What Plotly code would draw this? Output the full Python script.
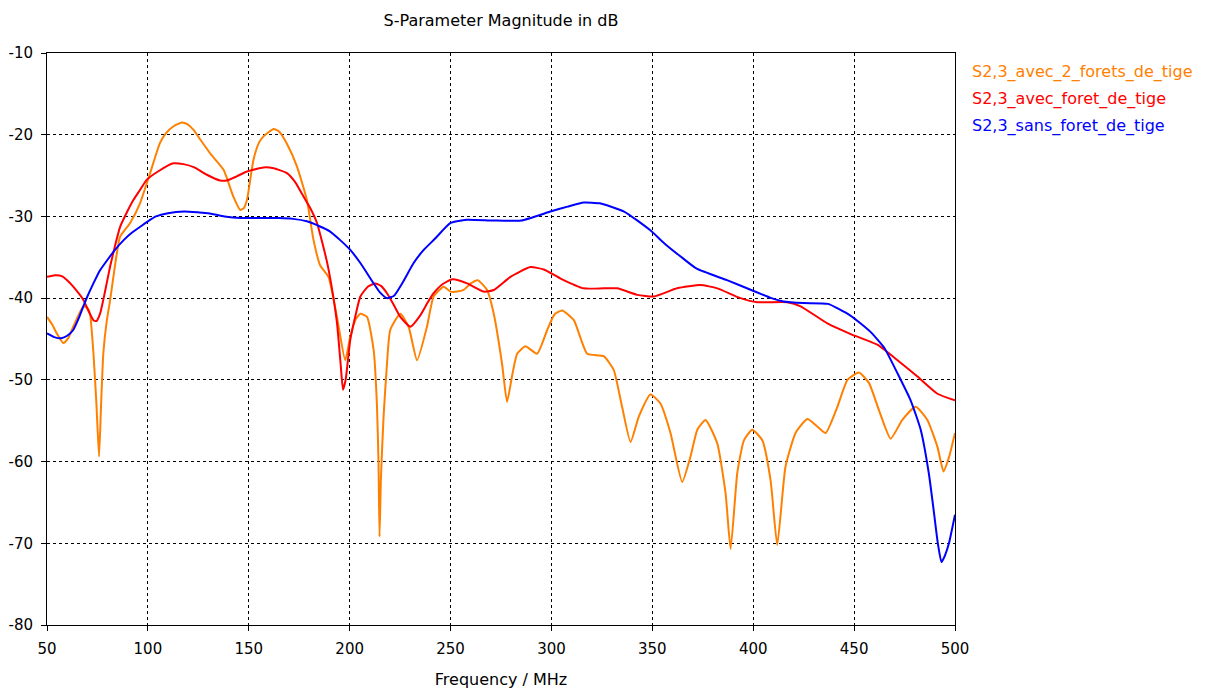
import plotly.graph_objects as go

# ---- data ----
freq_blue = [50, 54, 57, 60, 63, 66, 68, 70, 73, 76, 80, 84, 88, 92, 96, 100, 104, 110, 118, 125, 130, 138, 146, 155,
             165, 172, 178.8, 185, 190, 195.3, 200.3, 205.3, 211.9, 215, 218.5, 222, 226, 231.7, 236.7, 242, 250, 258,
             271, 285, 299.5, 308, 316, 324, 336, 349, 356, 364, 372, 387, 399, 409, 415, 425, 437, 448, 458, 465,
             471.5, 478, 483, 487, 489.6, 491.5, 493.3, 495, 497, 500]
db_blue = [-44.3, -44.8, -44.9, -44.6, -43.9, -42.3, -41.0, -39.8, -38.2, -36.7, -35.3, -34.0, -32.9, -32.0, -31.3,
           -30.6, -30.0, -29.6, -29.4, -29.5, -29.6, -30.0, -30.2, -30.2, -30.2, -30.3, -30.6, -31.2, -31.8, -32.9,
           -34.1, -35.7, -38.2, -39.3, -40.0, -39.7, -38.2, -35.7, -34.1, -32.8, -30.8, -30.4, -30.5, -30.5, -29.4,
           -28.8, -28.3, -28.4, -29.4, -31.7, -33.3, -34.9, -36.4, -37.8, -39.0, -40.0, -40.4, -40.6, -40.7, -42.1,
           -44.1, -46.1, -49.2, -52.5, -56.1, -61.4, -66.3, -70.0, -72.3, -71.5, -70.0, -66.5]

freq_red = [50, 54, 57.3, 60, 63, 68, 71, 73, 74.5, 76.3, 78.5, 81.3, 84, 86.2, 89, 92.8, 96, 99.5, 105, 112.6, 117.6,
            123, 129.2, 135.8, 139.1, 144, 149.1, 157.3, 162.3, 168.9, 173, 177.2, 180.5, 183.8, 188.7, 191, 193.7,
            195.5, 196.7, 198, 200.3, 203, 205.3, 209, 212.7, 215.5, 218.5, 222, 225.1, 230.1, 235, 238.5, 241.6, 246,
            251, 258.2, 266.4, 271.4, 279.7, 289.6, 296.2, 304.5, 316, 325.9, 332.6, 342.5, 350.7, 362.3, 373.9,
            382.2, 393.7, 402, 416.9, 423.5, 436.8, 448.3, 461.5, 471.5, 481.4, 491.3, 500]
db_red = [-37.4, -37.2, -37.3, -37.8, -38.6, -40.2, -41.8, -42.7, -42.8, -41.9, -39.5, -36.1, -33.3, -31.3, -29.8,
          -28.0, -26.8, -25.5, -24.5, -23.5, -23.6, -24.0, -24.9, -25.6, -25.6, -25.1, -24.5, -24.0, -24.1, -24.7,
          -25.8, -27.6, -29.0, -30.8, -35.5, -38.5, -43.0, -48.0, -51.2, -50.0, -45.1, -42.0, -39.8, -38.6, -38.2,
          -38.5, -39.4, -40.9, -42.3, -43.5, -42.1, -40.6, -39.4, -38.3, -37.7, -38.2, -39.2, -39.0, -37.4, -36.2,
          -36.5, -37.6, -38.8, -38.8, -38.8, -39.6, -39.8, -38.8, -38.4, -38.8, -40.0, -40.5, -40.5, -41.0, -43.1,
          -44.4, -45.7, -47.6, -49.6, -51.7, -52.5]

freq_orange = [50, 52.5, 54.8, 58.1, 60.5, 63, 68, 70, 71.3, 73, 74.5, 75.8, 76.8, 77.9, 79.5, 81.3, 84, 86.2, 91.2,
               96.1, 101.1, 106, 109, 112.6, 116.8, 119.5, 122.6, 126, 130.9, 137.5, 142.4, 145.7, 147.5, 149.1,
               152.3, 155, 157.3, 162.3, 165, 168.9, 173.9, 178.8, 182.1, 185.4, 189.5, 193.7, 197.8, 200.3, 203,
               205.3, 208.6, 211.9, 213.5, 214.3, 214.8, 215.5, 216.8, 218.5, 220.1, 225.1, 229.2, 233.4, 238.3,
               241.6, 246.6, 250, 253.2, 256.5, 260, 263.5, 268.1, 271.4, 275.5, 278, 280.5, 283, 287.1, 292.9, 297.9,
               301.5, 305.3, 311.1, 317.7, 325.9, 330.9, 335, 339.2, 343.3, 349.1, 354, 359, 364.8, 368.9, 372.3,
               376.4, 382.2, 386.3, 388.8, 392.1, 395.4, 399.5, 404.5, 408.6, 411.9, 416, 421, 426.8, 431.7, 435.9,
               441.7, 446.7, 452.4, 457.4, 462.3, 468.1, 473.9, 480.5, 486.3, 491.3, 494.3, 497.1, 500]
db_orange = [-42.3, -43.2, -44.3, -45.5, -44.9, -43.5, -41.0, -41.2, -41.9, -46.7, -53.0, -59.4, -53.0, -46.8, -43.0,
             -40.2, -35.5, -32.5, -30.8, -28.4, -24.7, -21.0, -19.8, -19.0, -18.5, -18.7, -19.4, -20.6, -22.3, -24.3,
             -27.6, -29.2, -29.0, -28.0, -23.1, -21.0, -20.2, -19.3, -19.6, -21.1, -23.9, -28.0, -32.9, -36.0, -37.4,
             -42.3, -47.6, -44.7, -42.6, -41.9, -42.3, -46.4, -53.0, -60.2, -69.2, -62.0, -54.5, -48.0, -43.9, -41.9,
             -43.5, -47.6, -43.5, -39.8, -38.6, -39.2, -39.2, -39.0, -38.2, -37.8, -39.0, -41.9, -48.0, -52.7, -49.5,
             -46.8, -45.9, -46.8, -43.9, -42.0, -41.5, -42.7, -46.8, -47.1, -48.8, -53.3, -57.6, -54.5, -51.8, -52.9,
             -56.5, -62.5, -59.4, -56.1, -54.9, -57.8, -63.9, -70.7, -61.4, -57.4, -56.1, -57.4, -62.3, -70.2, -60.6,
             -56.5, -54.8, -55.7, -56.5, -53.3, -50.0, -49.1, -50.4, -53.7, -57.2, -54.9, -53.3, -54.9, -58.2, -61.2,
             -59.4, -56.5]

series_names = ["S2,3_avec_2_forets_de_tige", "S2,3_avec_foret_de_tige", "S2,3_sans_foret_de_tige"]
series_colors = ["#FF8000", "#FF0000", "#0000FF"]
x_ticks = [50, 100, 150, 200, 250, 300, 350, 400, 450, 500]
y_ticks = [-10, -20, -30, -40, -50, -60, -70, -80]

FONT = "DejaVu Sans"
W, H = 1198, 683
ML, MR, MT, MB = 39, 251, 45, 66
PH = H - MT - MB

fig = go.Figure()
for xs, ys, name, col in zip([freq_orange, freq_red, freq_blue], [db_orange, db_red, db_blue],
                             series_names, series_colors):
    fig.add_trace(go.Scatter(x=xs, y=ys, mode="lines", name=name,
                             line=dict(color=col, width=2, shape="spline", smoothing=0.5),
                             showlegend=False))

# legend as coloured text
for i, (name, col) in enumerate(zip(series_names, series_colors)):
    fig.add_annotation(text=name, xref="paper", yref="paper", x=1 + 15 / (W - ML - MR),
                       y=1 - (19 + 27 * i) / PH,
                       xanchor="left", yanchor="middle", showarrow=False,
                       font=dict(family=FONT, size=16, color=col))

axis_common = dict(showline=True, linecolor="black", linewidth=1, mirror=True,
                   showgrid=True, gridcolor="black", gridwidth=1, griddash="3px,3px",
                   ticks="outside", ticklen=5, tickcolor="black", zeroline=False,
                   ticklabelstandoff=5, automargin=False,
                   tickfont=dict(family=FONT, size=15, color="black"))

fig.update_layout(
    width=W, height=H,
    margin=dict(l=ML, r=MR, t=MT, b=MB, autoexpand=False),
    paper_bgcolor="white", plot_bgcolor="white",
    title=dict(text="S-Parameter Magnitude in dB", x=(ML + (W - ML - MR) / 2) / W, xanchor="center",
               y=1 - 12 / H, yanchor="middle", font=dict(family=FONT, size=16, color="black")),
    xaxis=dict(range=[50, 500], tickvals=x_ticks, ticktext=[str(v) for v in x_ticks],
               title=dict(text="Frequency / MHz", font=dict(family=FONT, size=16, color="black"), standoff=16),
               **axis_common),
    yaxis=dict(range=[-80, -10], tickvals=y_ticks, ticktext=[str(v) for v in y_ticks], **axis_common),
)

fig.write_html("out.html")
